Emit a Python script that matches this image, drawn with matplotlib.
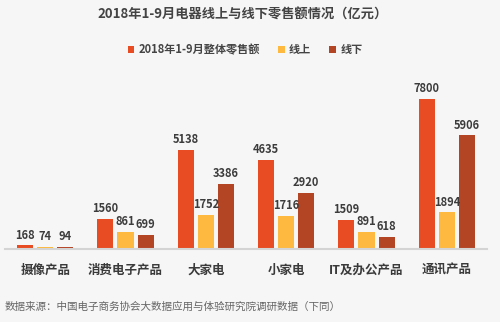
import numpy as np
import matplotlib.pyplot as plt

plt.rcParams['font.family'] = ['Noto Sans CJK SC', 'DejaVu Sans']

categories = ['摄像产品', '消费电子产品', '大家电', '小家电', 'IT及办公产品', '通讯产品']
total = [168, 1560, 5138, 4635, 1509, 7800]
online = [74, 861, 1752, 1716, 891, 1894]
offline = [94, 699, 3386, 2920, 618, 5906]
series_names = ['2018年1-9月整体零售额', '线上', '线下']
colors = ['#E84C22', '#FDB940', '#B34424']

fig = plt.figure(figsize=(5, 3.22), dpi=100)
fig.patch.set_facecolor('#f6f6f6')
ax = fig.add_axes([0.01, 0.2276, 0.964, 0.586])
ax.set_facecolor('none')

x = np.arange(len(categories))
num_font = dict(fontweight='bold', fontsize=8, color='#3c3c3c')
for i, (vals, c) in enumerate(zip([total, online, offline], colors)):
    xs = x + (i - 1) * 0.25
    ax.bar(xs, vals, width=0.2, color=c, label=series_names[i], zorder=2)
    for xi, v in zip(xs, vals):
        ax.text(xi, v + 200, str(v), ha='center', va='bottom', **num_font)

ax.set_xlim(-0.5, 5.5)
ax.set_ylim(0, 9833)
ax.set_yticks([])
ax.set_xticks(x)
ax.set_xticklabels(categories, fontsize=9, fontweight='bold', color='#3a3a3a')
ax.tick_params(axis='x', length=0, pad=11)
for s in ['top', 'right', 'left']:
    ax.spines[s].set_visible(False)
ax.spines['bottom'].set_color('#d4d4d4')
ax.spines['bottom'].set_linewidth(1.5)

fig.text(0.485, 0.953, '2018年1-9月电器线上与线下零售额情况（亿元）', ha='center', va='center',
         fontsize=9.5, fontweight='bold', color='#444444')

leg = fig.legend(loc='center', bbox_to_anchor=(0.49, 0.845), ncol=3, frameon=False,
                 fontsize=8, handlelength=0.6, handleheight=0.6, handletextpad=0.4,
                 columnspacing=1.6)
for t in leg.get_texts():
    t.set_color('#444444')
    t.set_fontweight('bold')

fig.text(0.01, 0.047, '数据来源：中国电子商务协会大数据应用与体验研究院调研数据（下同）',
         ha='left', va='center', fontsize=7.6, color='#666666')

fig.savefig('out.png', dpi=100, facecolor=fig.get_facecolor())
